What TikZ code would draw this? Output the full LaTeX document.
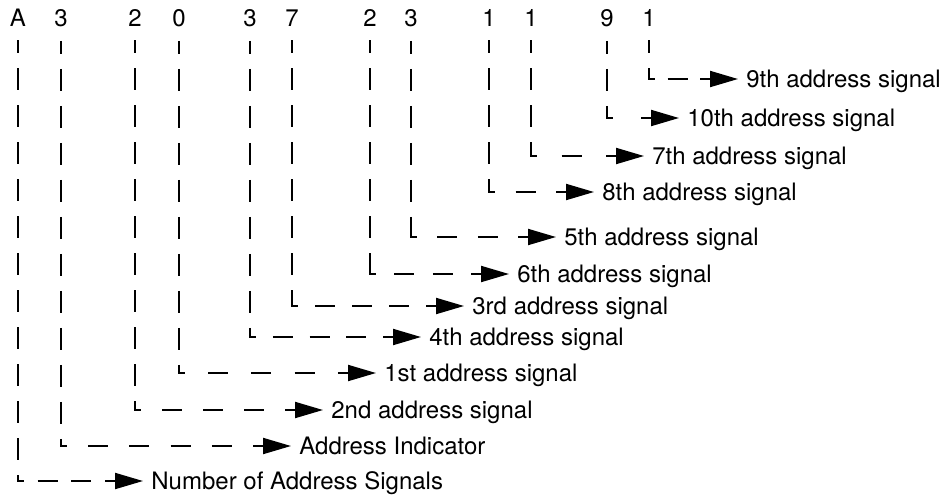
\documentclass[tikz,border=0pt]{standalone}
\usepackage{fontspec}
\setmainfont{TeX Gyre Heros}
\usepackage{tikz}
\usetikzlibrary{arrows.meta}
\tikzset{
  digit/.style={anchor=base, inner sep=0pt, font=\fontsize{12}{14}\selectfont},
  siglbl/.style={anchor=west, inner xsep=4pt, inner ysep=0pt, text height=8.5pt,
                 text depth=0pt, font=\fontsize{12}{14}\selectfont},
  vlead/.style={line width=1pt, dash pattern=on 11pt off 7.5pt, dash phase=4.5pt,
                shorten <=7pt, shorten >=-0.5pt},
  hlead/.style={line width=1pt, dash pattern=on 10pt off #1, dash phase=7pt},
  tip/.style={line width=1pt, -{Triangle[length=14pt,width=8pt]}}
}
\newcommand{\sigpath}[3]{%
  \draw[vlead] (#1.south) -- (#1.south |- #2.west);
  \draw[hlead=#3] (#1.south |- #2.west) -- ([xshift=-19pt]#2.west);
  \draw[tip] ([xshift=-19pt]#2.west) -- (#2.west);
}

\begin{document}
\begin{tikzpicture}[x=0.5pt, y=-0.5pt]
\useasboundingbox (0,0) rectangle (950,494);
% the address digits
\node[digit] (cnt) at (18,26) {A};
\node[digit] (ind) at (61,26) {3};
\node[digit] (sig2) at (135,26) {2};
\node[digit] (sig1) at (179,26) {0};
\node[digit] (sig4) at (250,26) {3};
\node[digit] (sig3) at (292,26) {7};
\node[digit] (sig6) at (370,26) {2};
\node[digit] (sig5) at (411,26) {3};
\node[digit] (sig8) at (489,26) {1};
\node[digit] (sig7) at (531,26) {1};
\node[digit] (sig10) at (607,26) {9};
\node[digit] (sig9) at (649,26) {1};
% what each digit stands for
\node[siglbl] (sig9lbl) at (738,79) {9th address signal};
\node[siglbl] (sig10lbl) at (679,118) {10th address signal};
\node[siglbl] (sig7lbl) at (644,156) {7th address signal};
\node[siglbl] (sig8lbl) at (594,192) {8th address signal};
\node[siglbl] (sig5lbl) at (556,237) {5th address signal};
\node[siglbl] (sig6lbl) at (509,274) {6th address signal};
\node[siglbl] (sig3lbl) at (464,306) {3rd address signal};
\node[siglbl] (sig4lbl) at (421,337) {4th address signal};
\node[siglbl] (sig1lbl) at (376,373) {1st address signal};
\node[siglbl] (sig2lbl) at (323,410) {2nd address signal};
\node[siglbl] (indlbl) at (291,446) {Address Indicator};
\node[siglbl] (cntlbl) at (143,481) {Number of Address Signals};
\sigpath{sig9}{sig9lbl}{6.25pt}
\sigpath{sig10}{sig10lbl}{14pt}
\sigpath{sig7}{sig7lbl}{12.25pt}
\sigpath{sig8}{sig8lbl}{10.25pt}
\sigpath{sig5}{sig5lbl}{10.2pt}
\sigpath{sig6}{sig6lbl}{9.2pt}
\sigpath{sig3}{sig3lbl}{8.5pt}
\sigpath{sig4}{sig4lbl}{8.4pt}
\sigpath{sig1}{sig1lbl}{11.6pt}
\sigpath{sig2}{sig2lbl}{10.5pt}
\sigpath{ind}{indlbl}{10.6pt}
\sigpath{cnt}{cntlbl}{6.85pt}
\end{tikzpicture}
\end{document}
